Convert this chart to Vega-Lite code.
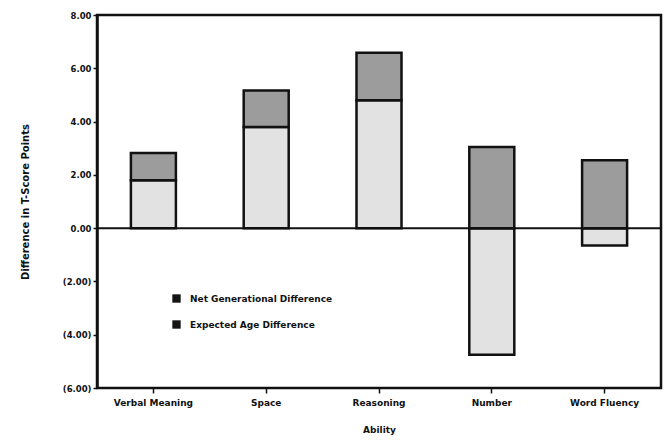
{
  "$schema": "https://vega.github.io/schema/vega-lite/v6.json",
  "width": 564,
  "height": 373,
  "autosize": {"type": "none"},
  "padding": {"left": 97, "top": 15, "right": 5, "bottom": 54},
  "background": "white",
  "config": {
    "font": "DejaVu Sans",
    "view": {"stroke": "#111", "strokeWidth": 2.5},
    "axis": {"grid": false, "domainColor": "#111", "tickColor": "#111", "labelColor": "#111", "titleColor": "#111", "labelFontWeight": "bold", "titleFontWeight": "bold"}
  },
  "data": {
    "values": [
      {"ability": "Verbal Meaning", "component": "Net Generational Difference", "value": 1.8},
      {"ability": "Verbal Meaning", "component": "Expected Age Difference", "value": 1.02},
      {"ability": "Space", "component": "Net Generational Difference", "value": 3.8},
      {"ability": "Space", "component": "Expected Age Difference", "value": 1.37},
      {"ability": "Reasoning", "component": "Net Generational Difference", "value": 4.8},
      {"ability": "Reasoning", "component": "Expected Age Difference", "value": 1.78},
      {"ability": "Number", "component": "Net Generational Difference", "value": -4.75},
      {"ability": "Number", "component": "Expected Age Difference", "value": 3.05},
      {"ability": "Word Fluency", "component": "Net Generational Difference", "value": -0.65},
      {"ability": "Word Fluency", "component": "Expected Age Difference", "value": 2.55}
    ]
  },
  "resolve": {"scale": {"color": "independent"}, "legend": {"color": "independent"}},
  "layer": [
    {
      "mark": {"type": "bar", "stroke": "#111", "strokeWidth": 2.5, "width": 45},
      "encoding": {
        "x": {
          "field": "ability", "type": "nominal",
          "sort": ["Verbal Meaning", "Space", "Reasoning", "Number", "Word Fluency"],
          "scale": {"paddingInner": 0, "paddingOuter": 0},
          "axis": {"title": "Ability", "labelAngle": 0, "labelFontSize": 9, "titleFontSize": 9, "titlePadding": 18, "domain": false, "ticks": true, "tickSize": 5, "tickWidth": 1.5, "labelPadding": 5}
        },
        "y": {
          "field": "value", "type": "quantitative", "stack": "zero",
          "scale": {"domain": [-6, 8], "nice": false, "zero": false},
          "axis": {
            "title": "Difference in T-Score Points",
            "values": [-6, -4, -2, 0, 2, 4, 6, 8],
            "labelExpr": "datum.value < 0 ? '(' + format(-datum.value, '.2f') + ')' : format(datum.value, '.2f')",
            "labelFontSize": 8.5, "titleFontSize": 10, "titlePadding": 32,
            "domainWidth": 2.5, "tickSize": 4, "tickWidth": 1.5, "labelPadding": 2
          }
        },
        "color": {
          "field": "component", "type": "nominal",
          "scale": {"domain": ["Net Generational Difference", "Expected Age Difference"], "range": ["#e2e2e2", "#9c9c9c"]},
          "legend": null
        },
        "order": {"field": "component", "sort": "descending"}
      }
    },
    {
      "mark": {"type": "point", "filled": true, "size": 0, "strokeWidth": 0, "opacity": 1},
      "encoding": {
        "color": {
          "field": "component", "type": "nominal",
          "scale": {"domain": ["Net Generational Difference", "Expected Age Difference"], "range": ["#141414", "#141414"]},
          "legend": {
            "title": null, "orient": "none", "legendX": 75, "legendY": 279,
            "symbolType": "square", "symbolSize": 70, "symbolStrokeWidth": 0, "symbolOpacity": 1,
            "labelFontSize": 9, "labelFontWeight": "bold", "labelColor": "#111",
            "rowPadding": 16, "labelOffset": 9
          }
        }
      }
    },
    {
      "data": {"values": [{"y": 0}]},
      "mark": {"type": "rule", "color": "#111", "strokeWidth": 2},
      "encoding": {"y": {"field": "y", "type": "quantitative"}}
    }
  ]
}
